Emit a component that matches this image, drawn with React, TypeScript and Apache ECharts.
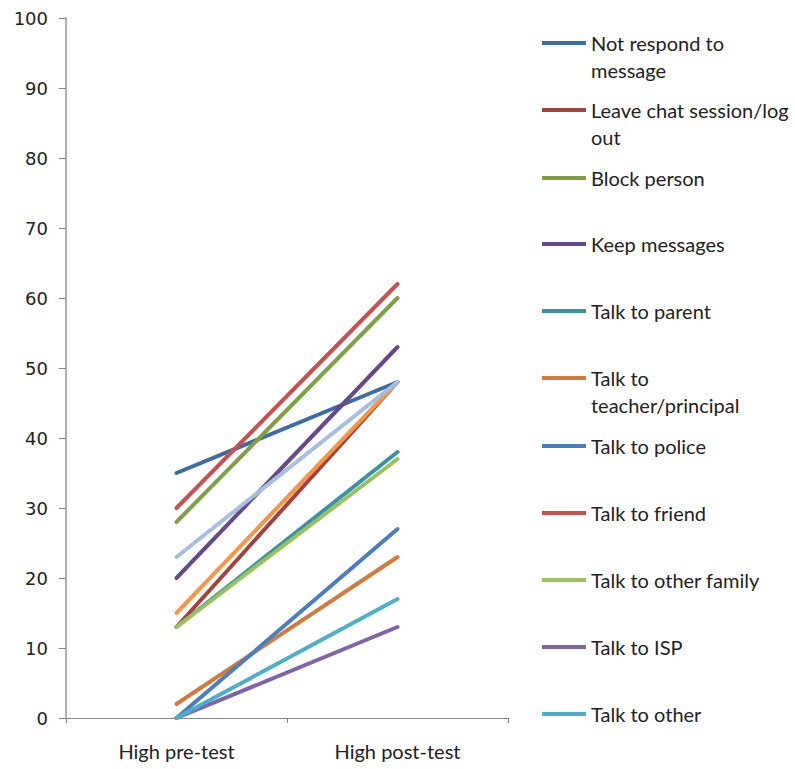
import React, { useEffect, useRef } from "react";
import * as echarts from "echarts";

// Categories on the x axis
const categories = ["High pre-test", "High post-test"];

// Response options (legend order) and their pre/post values
const seriesNames = [
  "Not respond to message",
  "Leave chat session/log out",
  "Block person",
  "Keep messages",
  "Talk to parent",
  "Talk to teacher/principal",
  "Talk to police",
  "Talk to friend",
  "Talk to other family",
  "Talk to ISP",
  "Talk to other",
  "Series 12",
  "Series 13",
];

const preValues = [35, 13, 28, 20, 13, 2, 0, 30, 13, 0, 0, 15, 23];
const postValues = [48, 48, 60, 53, 38, 23, 27, 62, 37, 13, 17, 48, 48];

// Wrapped legend labels
const legendLabels: Record<string, string[]> = {
  "Not respond to message": ["Not respond to", "message"],
  "Leave chat session/log out": ["Leave chat session/log", "out"],
  "Talk to teacher/principal": ["Talk to", "teacher/principal"],
};

const yTicks = [0, 10, 20, 30, 40, 50, 60, 70, 80, 90, 100];

const colors = [
  "#3D6BA3",
  "#A4403E",
  "#7FA044",
  "#65498A",
  "#3A92A6",
  "#D4793A",
  "#4A7EC0",
  "#C9504D",
  "#9BC25A",
  "#8064A8",
  "#4BAFC9",
  "#F79646",
  "#A7BFDE",
];

// Vertical centre of each legend line marker
const legendCenters = [43, 110, 178, 244, 311, 378, 446, 513, 580, 647, 714];

export default function App() {
  const ref = useRef<HTMLDivElement>(null);

  useEffect(() => {
    if (!ref.current) return;
    const chart = echarts.init(ref.current, null, { renderer: "svg" });

    const lineH = 27;
    const legends = legendCenters.map((c, i) => {
      const name = seriesNames[i];
      const wrapped = legendLabels[name];
      return {
        show: true,
        left: 542,
        // wrapped labels get a blank leading line so the first text line sits on the marker
        top: wrapped ? c - lineH * 1.5 : c - lineH / 2,
        padding: 0,
        orient: "vertical",
        icon: "rect",
        itemWidth: 44,
        itemHeight: 4,
        itemGap: 0,
        selectedMode: false,
        data: [name],
        formatter: (n: string) =>
          legendLabels[n] ? "\u00a0\n" + legendLabels[n].join("\n") : n,
        textStyle: {
          fontFamily: "Lato",
          fontSize: 20,
          color: "#222222",
          lineHeight: lineH,
        },
      };
    });

    chart.setOption({
      animation: false,
      backgroundColor: "#ffffff",
      color: colors,
      grid: { left: 66, right: 287, top: 18, bottom: 51, containLabel: false },
      legend: legends,
      xAxis: {
        type: "category",
        data: categories,
        boundaryGap: true,
        axisLine: { lineStyle: { color: "#868686", width: 1 } },
        axisTick: { show: true, length: 5, lineStyle: { color: "#868686" } },
        axisLabel: {
          fontFamily: "Lato",
          fontSize: 20,
          color: "#222222",
          margin: 23,
        },
      },
      yAxis: {
        type: "value",
        min: yTicks[0],
        max: yTicks[yTicks.length - 1],
        interval: 10,
        splitLine: { show: false },
        axisLine: { show: true, lineStyle: { color: "#B0B0B0", width: 2 } },
        axisTick: { show: true, length: 7, lineStyle: { color: "#868686" } },
        axisLabel: {
          fontFamily: "DejaVu Sans",
          fontSize: 18,
          color: "#222222",
          margin: 18,
        },
      },
      series: seriesNames.map((name, i) => ({
        name,
        type: "line",
        data: [preValues[i], postValues[i]],
        symbol: "none",
        lineStyle: { width: 4, cap: "round", color: colors[i] },
        itemStyle: { color: colors[i] },
      })),
    });

    return () => chart.dispose();
  }, []);

  return (
    <div
      ref={ref}
      style={{ position: "fixed", left: 0, top: 0, width: 795, height: 769 }}
    />
  );
}
